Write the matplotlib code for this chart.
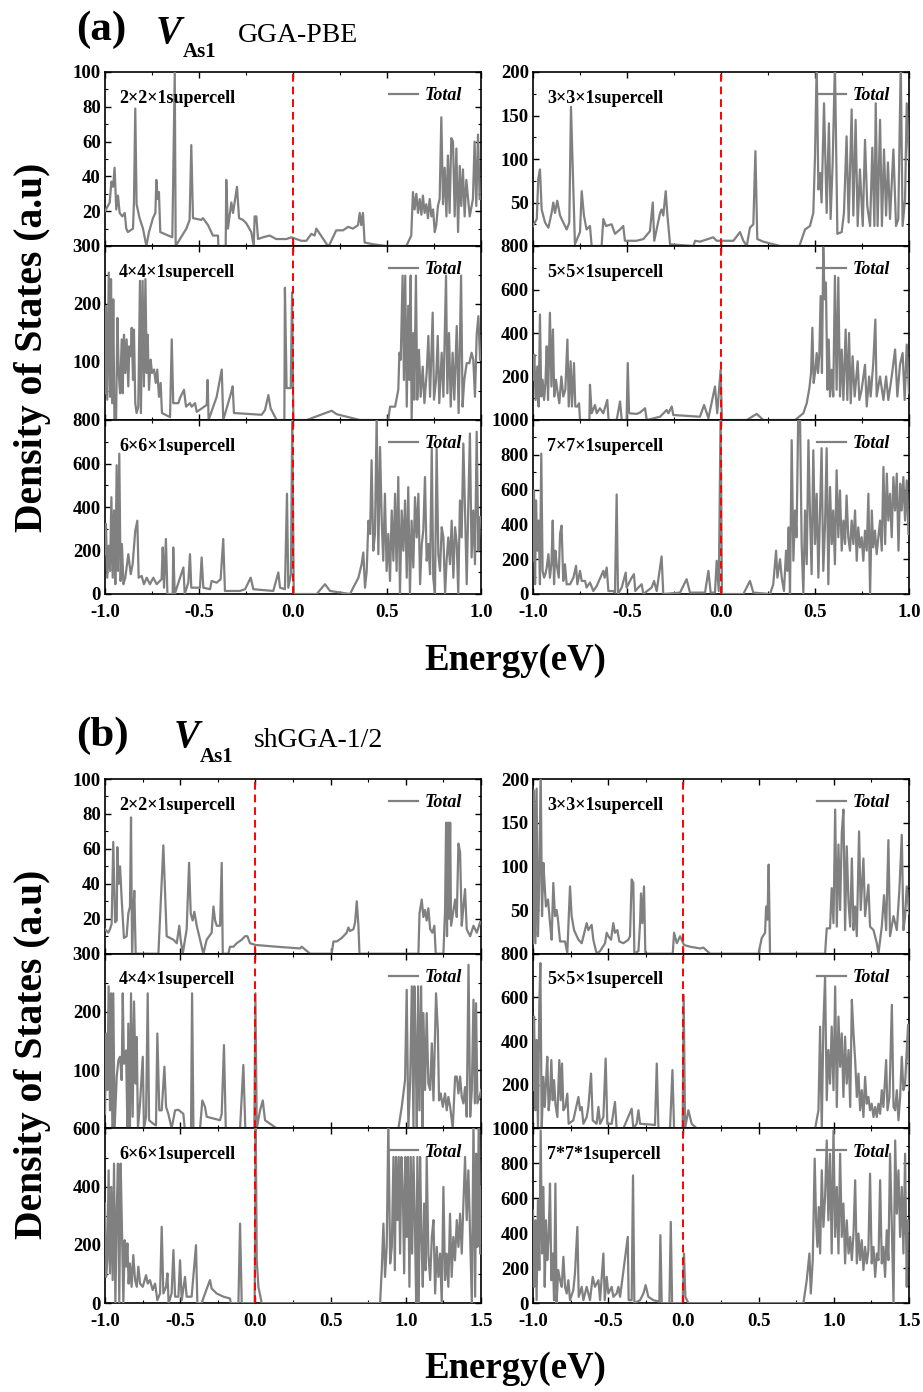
import numpy as np
import matplotlib
matplotlib.use("Agg")
import matplotlib.pyplot as plt
from matplotlib.ticker import MultipleLocator, FormatStrFormatter

plt.rcParams['font.family'] = ['Liberation Serif', 'DejaVu Serif']
plt.rcParams['font.weight'] = 'bold'

# ---------------- (a) GGA-PBE : (energy eV, DOS) ----------------
pbe_2x2 = [(-1.000, 20), (-0.975, 25), (-0.966, 37), (-0.957, 34), (-0.949, 45), (-0.940, 21), (-0.931, 29),
           (-0.922, 19), (-0.908, 17), (-0.895, 19), (-0.887, 10), (-0.878, 8), (-0.851, 10), (-0.846, 25),
           (-0.839, 79), (-0.832, 24), (-0.816, 16), (-0.798, 10), (-0.780, 0), (-0.766, 8), (-0.745, 16),
           (-0.732, 19), (-0.727, 38), (-0.720, 27), (-0.713, 31), (-0.706, 8), (-0.642, 5), (-0.638, 33),
           (-0.629, 100), (-0.624, 0), (-0.567, 10), (-0.550, 15), (-0.541, 58), (-0.532, 16), (-0.488, 15),
           (-0.479, 16), (-0.452, 12), (-0.426, 6), (-0.399, 6), (-0.397, 0), (-0.358, 0), (-0.355, 38),
           (-0.346, 10), (-0.328, 25), (-0.319, 19), (-0.298, 34), (-0.287, 16), (-0.266, 15), (-0.248, 13),
           (-0.222, 8), (-0.209, 0), (-0.204, 17), (-0.195, 17), (-0.186, 4), (-0.160, 5), (-0.124, 6),
           (-0.089, 4), (-0.035, 4), (-0.009, 5), (0.018, 4), (0.044, 3), (0.071, 3), (0.098, 7), (0.115, 6),
           (0.124, 10), (0.186, 0), (0.195, 1), (0.230, 9), (0.266, 9), (0.293, 11), (0.319, 10), (0.346, 12),
           (0.355, 19), (0.363, 12), (0.372, 19), (0.381, 2), (0.426, 1), (0.496, 0), (0.603, 0), (0.629, 6),
           (0.638, 31), (0.647, 21), (0.656, 30), (0.665, 19), (0.674, 27), (0.683, 18), (0.691, 29), (0.700, 19),
           (0.709, 24), (0.718, 16), (0.727, 27), (0.736, 17), (0.745, 21), (0.754, 8), (0.762, 12), (0.771, 23),
           (0.780, 27), (0.789, 74), (0.798, 24), (0.807, 45), (0.816, 17), (0.824, 52), (0.833, 19), (0.842, 62),
           (0.851, 60), (0.860, 17), (0.869, 56), (0.878, 8), (0.887, 46), (0.895, 23), (0.904, 44), (0.913, 17),
           (0.922, 38), (0.940, 17), (0.957, 27), (0.966, 60), (0.975, 23), (0.984, 64), (0.993, 27)]

pbe_3x3 = [(-1.000, 23), (-0.980, 31), (-0.972, 77), (-0.963, 88), (-0.954, 42), (-0.936, 27), (-0.918, 21),
           (-0.901, 38), (-0.892, 50), (-0.883, 38), (-0.871, 52), (-0.856, 35), (-0.839, 27), (-0.821, 19),
           (-0.807, 27), (-0.798, 160), (-0.777, 2), (-0.750, 16), (-0.741, 63), (-0.729, 35), (-0.715, 19),
           (-0.697, 23), (-0.688, 0), (-0.635, 0), (-0.626, 31), (-0.612, 23), (-0.582, 25), (-0.564, 14),
           (-0.537, 19), (-0.520, 23), (-0.511, 6), (-0.449, 6), (-0.413, 8), (-0.378, 17), (-0.363, 50),
           (-0.355, 6), (-0.324, 38), (-0.316, 42), (-0.307, 35), (-0.294, 63), (-0.285, 35), (-0.271, 2),
           (-0.147, 0), (-0.138, 6), (-0.112, 5), (-0.041, 10), (-0.023, 6), (0.066, 6), (0.101, 16), (0.119, 6),
           (0.137, 0), (0.154, 21), (0.172, 25), (0.183, 109), (0.193, 8), (0.225, 5), (0.314, 0), (0.417, 0),
           (0.447, 19), (0.473, 23), (0.491, 38), (0.500, 103), (0.509, 210), (0.518, 65), (0.527, 84), (0.535, 50),
           (0.548, 164), (0.562, 38), (0.574, 141), (0.583, 31), (0.594, 96), (0.606, 210), (0.619, 14), (0.642, 16),
           (0.654, 38), (0.668, 126), (0.679, 27), (0.695, 157), (0.704, 35), (0.716, 145), (0.727, 23), (0.739, 88),
           (0.754, 23), (0.766, 122), (0.778, 46), (0.793, 23), (0.805, 113), (0.816, 23), (0.823, 164), (0.833, 23),
           (0.846, 145), (0.856, 23), (0.867, 111), (0.878, 35), (0.888, 96), (0.899, 31), (0.917, 111), (0.931, 23),
           (0.943, 31), (0.956, 210), (0.966, 23), (0.979, 54), (0.988, 164), (1.000, 100)]

pbe_4x4 = [(-1.000, 46), (-0.995, 196), (-0.988, 35), (-0.980, 254), (-0.973, 40), (-0.968, 243), (-0.961, 29),
           (-0.956, 208), (-0.950, 0), (-0.941, 0), (-0.934, 176), (-0.927, 81), (-0.920, 46), (-0.911, 139),
           (-0.906, 46), (-0.899, 147), (-0.892, 81), (-0.885, 139), (-0.876, 58), (-0.871, 127), (-0.863, 110),
           (-0.858, 159), (-0.851, 69), (-0.846, 156), (-0.839, 29), (-0.832, 12), (-0.823, 23), (-0.814, 240),
           (-0.809, 12), (-0.800, 240), (-0.793, 58), (-0.785, 243), (-0.778, 81), (-0.773, 147), (-0.766, 52),
           (-0.757, 104), (-0.750, 81), (-0.739, 87), (-0.730, 64), (-0.722, 87), (-0.713, 40), (-0.704, 64),
           (-0.697, 12), (-0.654, 5), (-0.645, 139), (-0.637, 29), (-0.610, 29), (-0.601, 38), (-0.580, 52),
           (-0.569, 23), (-0.548, 29), (-0.539, 23), (-0.521, 29), (-0.512, 14), (-0.459, 26), (-0.454, 69),
           (-0.449, 0), (-0.406, 40), (-0.379, 87), (-0.371, 0), (-0.330, 46), (-0.321, 58), (-0.314, 12),
           (-0.167, 9), (-0.149, 17), (-0.131, 43), (-0.119, 20), (-0.087, 0), (-0.046, 0), (-0.043, 228),
           (-0.034, 55), (-0.012, 55), (-0.005, 220), (0.002, 0), (0.073, 0), (0.206, 16), (0.232, 10), (0.356, 0),
           (0.507, 0), (0.516, 23), (0.543, 23), (0.560, 52), (0.566, 116), (0.573, 104), (0.583, 249), (0.590, 69),
           (0.597, 249), (0.605, 23), (0.613, 197), (0.619, 69), (0.626, 249), (0.631, 0), (0.640, 150), (0.645, 35),
           (0.654, 249), (0.661, 35), (0.670, 121), (0.679, 40), (0.690, 92), (0.699, 29), (0.711, 81), (0.720, 145),
           (0.729, 40), (0.743, 185), (0.750, 35), (0.761, 69), (0.770, 145), (0.778, 29), (0.791, 116), (0.800, 40),
           (0.814, 249), (0.821, 46), (0.830, 150), (0.839, 23), (0.849, 116), (0.858, 35), (0.871, 162), (0.881, 12),
           (0.894, 249), (0.902, 23), (0.911, 69), (0.924, 98), (0.938, 98), (0.950, 116), (0.959, 104), (0.968, 40),
           (0.977, 147), (0.986, 179), (0.995, 104)]

pbe_5x5 = [(-1.000, 185), (-0.993, 300), (-0.986, 92), (-0.977, 246), (-0.970, 62), (-0.963, 485), (-0.956, 108),
           (-0.949, 185), (-0.941, 92), (-0.934, 170), (-0.927, 339), (-0.920, 92), (-0.910, 493), (-0.902, 154),
           (-0.894, 416), (-0.887, 108), (-0.878, 185), (-0.871, 139), (-0.860, 77), (-0.849, 200), (-0.839, 108),
           (-0.828, 139), (-0.817, 370), (-0.810, 62), (-0.800, 270), (-0.793, 62), (-0.782, 262), (-0.775, 62),
           (-0.764, 62), (-0.755, 77), (-0.750, 0), (-0.700, 0), (-0.697, 162), (-0.688, 31), (-0.670, 69),
           (-0.661, 31), (-0.644, 54), (-0.626, 31), (-0.605, 92), (-0.598, 0), (-0.555, 0), (-0.537, 85),
           (-0.528, 0), (-0.502, 0), (-0.496, 262), (-0.489, 31), (-0.449, 28), (-0.431, 34), (-0.404, 54),
           (-0.395, 0), (-0.324, 15), (-0.289, 46), (-0.280, 31), (-0.262, 62), (-0.254, 23), (-0.112, 15),
           (-0.090, 69), (-0.067, 8), (-0.032, 154), (-0.020, 31), (-0.002, 231), (0.005, 0), (0.137, 0),
           (0.190, 28), (0.225, 0), (0.394, 0), (0.438, 31), (0.456, 77), (0.470, 146), (0.479, 216), (0.486, 424),
           (0.493, 170), (0.502, 231), (0.509, 308), (0.516, 216), (0.523, 300), (0.530, 570), (0.537, 216),
           (0.544, 793), (0.551, 555), (0.558, 632), (0.566, 139), (0.573, 370), (0.580, 108), (0.589, 231),
           (0.597, 108), (0.606, 663), (0.615, 139), (0.624, 655), (0.633, 108), (0.642, 324), (0.651, 92),
           (0.663, 416), (0.672, 92), (0.681, 400), (0.690, 77), (0.700, 293), (0.711, 108), (0.727, 270),
           (0.736, 92), (0.748, 139), (0.766, 254), (0.775, 62), (0.788, 200), (0.796, 108), (0.810, 262),
           (0.821, 462), (0.828, 108), (0.846, 200), (0.864, 92), (0.878, 200), (0.890, 92), (0.908, 200),
           (0.926, 324), (0.938, 108), (0.952, 254), (0.966, 308), (0.977, 92), (0.988, 347), (1.000, 123)]

pbe_6x6 = [(-1.000, 183), (-0.995, 322), (-0.988, 75), (-0.980, 222), (-0.973, 106), (-0.966, 445), (-0.959, 75),
           (-0.952, 384), (-0.945, 45), (-0.938, 592), (-0.931, 106), (-0.924, 645), (-0.917, 60), (-0.910, 230),
           (-0.902, 45), (-0.892, 75), (-0.876, 183), (-0.863, 91), (-0.853, 137), (-0.839, 291), (-0.828, 337),
           (-0.821, 75), (-0.805, 83), (-0.793, 45), (-0.778, 75), (-0.761, 45), (-0.743, 75), (-0.725, 45),
           (-0.699, 68), (-0.693, 214), (-0.686, 29), (-0.676, 253), (-0.668, 0), (-0.640, 0), (-0.637, 214),
           (-0.629, 0), (-0.583, 122), (-0.576, 0), (-0.557, 52), (-0.548, 183), (-0.541, 29), (-0.495, 29),
           (-0.486, 168), (-0.477, 29), (-0.441, 22), (-0.433, 60), (-0.406, 52), (-0.385, 68), (-0.371, 253),
           (-0.362, 14), (-0.282, 14), (-0.255, 22), (-0.225, 75), (-0.211, 22), (-0.105, 14), (-0.078, 99),
           (-0.069, 29), (-0.043, 22), (-0.032, 461), (-0.025, 29), (-0.011, 91), (-0.004, 820), (0.004, 0),
           (0.126, 0), (0.170, 45), (0.197, 14), (0.303, 0), (0.330, 45), (0.348, 75), (0.365, 137), (0.374, 191),
           (0.383, 29), (0.392, 106), (0.401, 337), (0.410, 276), (0.418, 615), (0.427, 199), (0.436, 276),
           (0.445, 820), (0.454, 183), (0.463, 676), (0.472, 337), (0.480, 153), (0.489, 461), (0.498, 106),
           (0.507, 276), (0.516, 60), (0.525, 384), (0.534, 153), (0.543, 461), (0.551, 106), (0.560, 538),
           (0.569, 0), (0.578, 384), (0.587, 199), (0.596, 430), (0.605, 75), (0.613, 491), (0.622, 0),
           (0.631, 337), (0.640, 122), (0.649, 445), (0.658, 260), (0.667, 461), (0.676, 45), (0.685, 230),
           (0.693, 291), (0.702, 538), (0.711, 153), (0.720, 230), (0.729, 91), (0.738, 669), (0.746, 75),
           (0.755, 0), (0.764, 669), (0.773, 183), (0.782, 106), (0.791, 307), (0.800, 260), (0.809, 0),
           (0.817, 153), (0.826, 260), (0.835, 137), (0.844, 337), (0.853, 75), (0.862, 307), (0.871, 230),
           (0.879, 0), (0.888, 430), (0.897, 260), (0.906, 692), (0.915, 384), (0.924, 45), (0.933, 430),
           (0.941, 738), (0.950, 168), (0.959, 384), (0.968, 137), (0.977, 746), (0.986, 199), (0.995, 353)]

pbe_7x7 = [(-1.000, 191), (-0.995, 595), (-0.989, 56), (-0.984, 538), (-0.977, 249), (-0.970, 422), (-0.963, 56),
           (-0.956, 807), (-0.949, 133), (-0.941, 94), (-0.934, 114), (-0.927, 152), (-0.918, 229), (-0.910, 94),
           (-0.902, 171), (-0.895, 422), (-0.888, 56), (-0.881, 249), (-0.874, 171), (-0.863, 94), (-0.856, 345),
           (-0.848, 393), (-0.839, 75), (-0.830, 171), (-0.821, 56), (-0.803, 56), (-0.785, 94), (-0.771, 162),
           (-0.764, 56), (-0.750, 133), (-0.741, 75), (-0.723, 75), (-0.715, 37), (-0.697, 66), (-0.679, 17),
           (-0.661, 46), (-0.626, 133), (-0.619, 94), (-0.608, 152), (-0.599, 17), (-0.573, 17), (-0.564, 8),
           (-0.555, 572), (-0.548, 0), (-0.528, 37), (-0.507, 123), (-0.502, 37), (-0.475, 94), (-0.463, 114),
           (-0.456, 17), (-0.440, 37), (-0.422, 56), (-0.413, 0), (-0.369, 37), (-0.356, 75), (-0.342, 17),
           (-0.316, 216), (-0.307, 0), (-0.218, 8), (-0.183, 85), (-0.165, 8), (-0.085, 8), (-0.067, 133),
           (-0.055, 8), (-0.032, 8), (-0.023, 191), (-0.012, 17), (-0.002, 1050), (0.005, 0), (0.119, 0),
           (0.154, 75), (0.172, 8), (0.261, 0), (0.278, 56), (0.293, 249), (0.300, 94), (0.314, 200), (0.323, 94),
           (0.335, 17), (0.346, 249), (0.353, 133), (0.360, 383), (0.367, 0), (0.376, 884), (0.385, 191),
           (0.394, 480), (0.402, 326), (0.411, 1050), (0.420, 1050), (0.429, 287), (0.438, 0), (0.447, 480),
           (0.456, 171), (0.465, 884), (0.473, 480), (0.482, 114), (0.491, 826), (0.500, 287), (0.509, 576),
           (0.518, 94), (0.527, 480), (0.535, 838), (0.544, 133), (0.553, 383), (0.562, 838), (0.571, 56),
           (0.580, 615), (0.589, 287), (0.597, 480), (0.606, 171), (0.615, 711), (0.624, 326), (0.633, 595),
           (0.642, 249), (0.651, 422), (0.660, 287), (0.668, 566), (0.677, 326), (0.686, 249), (0.695, 422),
           (0.704, 287), (0.713, 480), (0.722, 191), (0.730, 383), (0.739, 268), (0.748, 326), (0.757, 191),
           (0.766, 364), (0.775, 249), (0.784, 576), (0.793, 0), (0.802, 480), (0.810, 268), (0.819, 364),
           (0.828, 229), (0.837, 326), (0.846, 422), (0.855, 249), (0.864, 730), (0.873, 287), (0.882, 692),
           (0.890, 422), (0.899, 576), (0.908, 326), (0.917, 672), (0.926, 480), (0.935, 692), (0.944, 249),
           (0.953, 634), (0.961, 480), (0.970, 672), (0.979, 422), (0.988, 653), (0.997, 345)]

# ---------------- (b) shGGA-1/2 : (energy eV, DOS) ----------------
sh_2x2 = [(-1.000, 14), (-0.978, 12), (-0.967, 14), (-0.956, 17), (-0.945, 64), (-0.933, 18), (-0.922, 19),
          (-0.918, 61), (-0.909, 40), (-0.900, 50), (-0.889, 31), (-0.874, 9), (-0.856, 10), (-0.845, 23),
          (-0.834, 27), (-0.827, 78), (-0.820, 0), (-0.812, 23), (-0.805, 36), (-0.796, 0), (-0.645, 0),
          (-0.612, 62), (-0.590, 10), (-0.545, 8), (-0.523, 6), (-0.506, 16), (-0.497, 8), (-0.483, 0),
          (-0.457, 14), (-0.441, 52), (-0.430, 23), (-0.417, 19), (-0.406, 24), (-0.390, 16), (-0.368, 8),
          (-0.346, 0), (-0.324, 8), (-0.291, 12), (-0.279, 27), (-0.268, 19), (-0.257, 16), (-0.235, 16),
          (-0.224, 52), (-0.217, 0), (-0.180, 0), (-0.169, 4), (-0.146, 4), (-0.124, 6), (-0.091, 8),
          (-0.069, 10), (-0.053, 10), (-0.036, 6), (0.000, 5), (0.142, 4), (0.297, 3), (0.308, 4), (0.363, 0),
          (0.507, 0), (0.519, 7), (0.541, 7), (0.574, 9), (0.607, 12), (0.618, 15), (0.629, 13), (0.652, 14),
          (0.663, 18), (0.674, 30), (0.685, 16), (0.692, 0), (1.084, 0), (1.091, 23), (1.106, 31), (1.117, 21),
          (1.128, 25), (1.139, 19), (1.150, 26), (1.162, 14), (1.177, 12), (1.190, 16), (1.199, 0), (1.250, 0),
          (1.261, 25), (1.268, 75), (1.274, 10), (1.281, 75), (1.288, 20), (1.295, 75), (1.301, 16), (1.328, 31),
          (1.339, 21), (1.350, 63), (1.361, 58), (1.372, 16), (1.383, 27), (1.394, 37), (1.405, 14), (1.428, 10),
          (1.450, 16), (1.472, 12), (1.494, 18)]

sh_3x3 = [(-1.000, 12), (-0.993, 187), (-0.984, 12), (-0.976, 189), (-0.967, 20), (-0.958, 85), (-0.949, 210),
          (-0.940, 43), (-0.931, 104), (-0.922, 77), (-0.914, 54), (-0.900, 62), (-0.887, 35), (-0.876, 16),
          (-0.865, 81), (-0.854, 43), (-0.843, 50), (-0.834, 39), (-0.820, 14), (-0.787, 14), (-0.772, 1),
          (-0.754, 77), (-0.743, 43), (-0.727, 27), (-0.698, 16), (-0.676, 12), (-0.643, 35), (-0.632, 27),
          (-0.610, 33), (-0.599, 16), (-0.577, 0), (-0.554, 3), (-0.521, 12), (-0.510, 24), (-0.499, 20),
          (-0.481, 16), (-0.466, 35), (-0.455, 24), (-0.439, 27), (-0.426, 14), (-0.399, 12), (-0.366, 16),
          (-0.355, 20), (-0.344, 85), (-0.333, 81), (-0.326, 0), (-0.299, 3), (-0.288, 35), (-0.282, 69),
          (-0.273, 35), (-0.262, 77), (-0.253, 0), (-0.071, 0), (-0.062, 24), (-0.044, 12), (-0.022, 20),
          (0.004, 10), (0.044, 8), (0.111, 6), (0.133, 7), (0.177, 0), (0.499, 0), (0.521, 18), (0.543, 24),
          (0.550, 54), (0.559, 39), (0.567, 102), (0.576, 0), (0.942, 0), (0.953, 29), (0.975, 29), (0.986, 75),
          (0.998, 35), (1.009, 165), (1.020, 31), (1.031, 125), (1.042, 50), (1.053, 138), (1.064, 165),
          (1.075, 27), (1.086, 123), (1.098, 58), (1.109, 31), (1.120, 109), (1.131, 27), (1.142, 54),
          (1.153, 20), (1.168, 140), (1.179, 50), (1.197, 109), (1.208, 43), (1.230, 79), (1.241, 31),
          (1.264, 27), (1.286, 12), (1.297, 0), (1.319, 31), (1.334, 67), (1.348, 27), (1.363, 130), (1.374, 20),
          (1.397, 43), (1.419, 27), (1.436, 73), (1.452, 136), (1.463, 27), (1.474, 43), (1.485, 77), (1.501, 46)]

sh_4x4 = [(-1.000, 25), (-0.993, 163), (-0.984, 66), (-0.976, 244), (-0.967, 31), (-0.960, 232), (-0.951, 0),
          (-0.945, 232), (-0.936, 0), (-0.922, 89), (-0.911, 117), (-0.900, 123), (-0.889, 83), (-0.882, 232),
          (-0.874, 111), (-0.860, 134), (-0.851, 0), (-0.845, 180), (-0.834, 0), (-0.827, 232), (-0.816, 20),
          (-0.807, 218), (-0.796, 77), (-0.789, 157), (-0.781, 0), (-0.767, 43), (-0.749, 123), (-0.741, 0),
          (-0.727, 20), (-0.716, 232), (-0.707, 14), (-0.679, 8), (-0.661, 5), (-0.652, 163), (-0.639, 31),
          (-0.623, 31), (-0.605, 106), (-0.594, 37), (-0.579, 25), (-0.557, 0), (-0.534, 31), (-0.512, 32),
          (-0.479, 25), (-0.470, 0), (-0.428, 0), (-0.421, 232), (-0.412, 0), (-0.368, 0), (-0.353, 48),
          (-0.335, 37), (-0.324, 20), (-0.279, 17), (-0.235, 14), (-0.224, 25), (-0.209, 143), (-0.197, 0),
          (-0.102, 0), (-0.080, 109), (-0.067, 0), (-0.007, 0), (0.000, 232), (0.009, 0), (0.031, 31),
          (0.049, 48), (0.064, 14), (0.142, 0), (0.951, 0), (0.973, 37), (0.995, 83), (1.006, 238), (1.017, 0),
          (1.029, 83), (1.040, 244), (1.051, 0), (1.057, 244), (1.066, 134), (1.073, 0), (1.082, 244),
          (1.091, 31), (1.102, 244), (1.111, 0), (1.117, 198), (1.128, 66), (1.139, 198), (1.150, 77),
          (1.162, 66), (1.173, 146), (1.184, 48), (1.201, 232), (1.213, 169), (1.221, 48), (1.232, 60),
          (1.246, 37), (1.261, 60), (1.272, 31), (1.283, 54), (1.295, 37), (1.312, 0), (1.328, 89), (1.339, 89),
          (1.350, 60), (1.361, 89), (1.372, 54), (1.383, 43), (1.394, 71), (1.405, 20), (1.417, 281), (1.428, 20),
          (1.439, 66), (1.450, 221), (1.459, 43), (1.467, 215), (1.476, 43), (1.490, 54), (1.501, 66)]

sh_5x5 = [(-1.000, 175), (-0.993, 512), (-0.984, 83), (-0.976, 405), (-0.967, 0), (-0.958, 573), (-0.951, 757),
          (-0.942, 0), (-0.931, 236), (-0.922, 98), (-0.914, 205), (-0.905, 328), (-0.896, 83), (-0.887, 144),
          (-0.878, 313), (-0.869, 129), (-0.860, 221), (-0.851, 113), (-0.838, 52), (-0.825, 313), (-0.816, 129),
          (-0.807, 297), (-0.798, 83), (-0.785, 98), (-0.772, 159), (-0.763, 21), (-0.732, 37), (-0.698, 144),
          (-0.687, 83), (-0.676, 98), (-0.665, 21), (-0.643, 52), (-0.632, 98), (-0.614, 251), (-0.603, 37),
          (-0.577, 21), (-0.565, 98), (-0.554, 21), (-0.532, 52), (-0.517, 320), (-0.506, 21), (-0.477, 21),
          (-0.455, 121), (-0.444, 0), (-0.399, 0), (-0.344, 90), (-0.333, 0), (-0.311, 21), (-0.299, 83),
          (-0.288, 21), (-0.222, 18), (-0.189, 15), (-0.177, 297), (-0.166, 0), (-0.089, 0), (-0.073, 267),
          (-0.062, 0), (-0.005, 0), (0.002, 611), (0.011, 0), (0.033, 83), (0.055, 21), (0.089, 0), (0.876, 0),
          (0.898, 83), (0.909, 466), (0.920, 0), (0.931, 481), (0.942, 696), (0.953, 129), (0.964, 359),
          (0.975, 205), (0.986, 466), (0.998, 175), (1.009, 650), (1.020, 98), (1.031, 512), (1.042, 282),
          (1.053, 435), (1.064, 144), (1.075, 420), (1.086, 205), (1.098, 359), (1.109, 98), (1.120, 589),
          (1.131, 435), (1.142, 313), (1.153, 144), (1.164, 251), (1.175, 83), (1.186, 175), (1.197, 52),
          (1.208, 236), (1.219, 113), (1.230, 144), (1.241, 83), (1.252, 113), (1.264, 52), (1.275, 98),
          (1.286, 52), (1.297, 113), (1.308, 67), (1.319, 175), (1.330, 98), (1.348, 313), (1.357, 83),
          (1.370, 144), (1.386, 566), (1.397, 98), (1.408, 83), (1.419, 175), (1.430, 37), (1.441, 144),
          (1.452, 328), (1.463, 175), (1.474, 205), (1.485, 359), (1.494, 474), (1.501, 175)]

sh_6x6 = [(-1.000, 342), (-0.993, 90), (-0.984, 147), (-0.976, 456), (-0.967, 102), (-0.958, 399), (-0.949, 79),
          (-0.940, 479), (-0.931, 0), (-0.922, 319), (-0.914, 479), (-0.905, 0), (-0.896, 479), (-0.887, 250),
          (-0.878, 0), (-0.869, 216), (-0.860, 125), (-0.851, 205), (-0.843, 67), (-0.834, 136), (-0.823, 56),
          (-0.812, 165), (-0.800, 79), (-0.789, 56), (-0.778, 125), (-0.767, 67), (-0.749, 56), (-0.727, 96),
          (-0.716, 67), (-0.701, 79), (-0.683, 45), (-0.667, 67), (-0.652, 10), (-0.634, 33), (-0.623, 262),
          (-0.612, 33), (-0.594, 56), (-0.585, 102), (-0.577, 0), (-0.557, 33), (-0.545, 182), (-0.534, 22),
          (-0.512, 22), (-0.501, 147), (-0.490, 10), (-0.468, 90), (-0.457, 22), (-0.424, 22), (-0.395, 199),
          (-0.386, 0), (-0.357, 0), (-0.335, 33), (-0.302, 79), (-0.291, 50), (-0.257, 33), (-0.213, 22),
          (-0.169, 16), (-0.164, 0), (-0.113, 0), (-0.102, 273), (-0.091, 0), (-0.005, 0), (0.002, 620),
          (0.009, 147), (0.020, 56), (0.042, 0), (0.829, 0), (0.840, 113), (0.851, 273), (0.862, 90),
          (0.873, 193), (0.884, 620), (0.896, 136), (0.907, 193), (0.918, 502), (0.927, 113), (0.935, 502),
          (0.944, 285), (0.953, 502), (0.962, 170), (0.971, 502), (0.980, 399), (0.989, 102), (0.998, 502),
          (1.006, 227), (1.015, 502), (1.024, 56), (1.033, 502), (1.042, 170), (1.051, 502), (1.060, 285),
          (1.069, 0), (1.077, 502), (1.086, 0), (1.095, 502), (1.104, 227), (1.113, 56), (1.122, 342),
          (1.131, 113), (1.139, 502), (1.150, 170), (1.162, 79), (1.173, 227), (1.184, 285), (1.195, 33),
          (1.206, 193), (1.217, 90), (1.228, 170), (1.239, 0), (1.250, 399), (1.261, 79), (1.272, 170),
          (1.283, 56), (1.294, 307), (1.305, 90), (1.316, 227), (1.327, 147), (1.339, 285), (1.350, 193),
          (1.361, 307), (1.372, 170), (1.383, 342), (1.394, 502), (1.405, 285), (1.416, 456), (1.428, 227),
          (1.439, 0), (1.450, 620), (1.461, 22), (1.468, 513), (1.476, 193), (1.485, 620), (1.494, 170),
          (1.501, 399)]

sh_7x7 = [(-1.000, 531), (-0.993, 93), (-0.984, 474), (-0.976, 17), (-0.967, 589), (-0.958, 189), (-0.949, 988),
          (-0.940, 284), (-0.931, 665), (-0.922, 93), (-0.914, 474), (-0.905, 246), (-0.896, 379), (-0.887, 684),
          (-0.878, 131), (-0.869, 284), (-0.860, 17), (-0.851, 684), (-0.843, 0), (-0.832, 189), (-0.820, 131),
          (-0.809, 93), (-0.798, 265), (-0.787, 93), (-0.776, 55), (-0.765, 131), (-0.754, 17), (-0.732, 74),
          (-0.721, 170), (-0.705, 436), (-0.696, 36), (-0.676, 93), (-0.665, 17), (-0.643, 93), (-0.621, 17),
          (-0.603, 150), (-0.588, 93), (-0.565, 131), (-0.554, 17), (-0.532, 284), (-0.523, 17), (-0.510, 150),
          (-0.499, 55), (-0.477, 93), (-0.466, 36), (-0.444, 55), (-0.432, 93), (-0.421, 36), (-0.370, 379),
          (-0.364, 17), (-0.344, 17), (-0.335, 731), (-0.326, 0), (-0.288, 17), (-0.266, 55), (-0.251, 103),
          (-0.233, 36), (-0.200, 17), (-0.160, 8), (-0.153, 389), (-0.144, 0), (-0.093, 0), (-0.084, 465),
          (-0.075, 0), (-0.005, 0), (0.004, 284), (0.013, 36), (0.033, 0), (0.798, 0), (0.820, 131), (0.838, 284),
          (0.847, 55), (0.860, 246), (0.873, 827), (0.882, 474), (0.891, 322), (0.900, 550), (0.909, 284),
          (0.920, 760), (0.931, 436), (0.942, 608), (0.953, 931), (0.964, 474), (0.975, 855), (0.986, 284),
          (0.998, 988), (1.009, 379), (1.020, 665), (1.031, 284), (1.042, 855), (1.053, 379), (1.064, 570),
          (1.075, 227), (1.086, 474), (1.098, 284), (1.109, 379), (1.120, 246), (1.131, 398), (1.142, 703),
          (1.153, 227), (1.164, 398), (1.175, 246), (1.186, 360), (1.197, 189), (1.208, 322), (1.219, 227),
          (1.230, 303), (1.241, 741), (1.252, 227), (1.264, 322), (1.275, 150), (1.286, 284), (1.297, 246),
          (1.308, 703), (1.319, 227), (1.330, 322), (1.341, 150), (1.352, 417), (1.363, 246), (1.374, 855),
          (1.385, 474), (1.397, 0), (1.408, 931), (1.419, 512), (1.430, 760), (1.441, 379), (1.452, 665),
          (1.463, 284), (1.474, 855), (1.485, 93), (1.492, 474), (1.501, 417)]

# panel labels and y-axis ranges (max, tick step)
labels_a = ['2×2×1supercell', '3×3×1supercell', '4×4×1supercell',
            '5×5×1supercell', '6×6×1supercell', '7×7×1supercell']
labels_b = ['2×2×1supercell', '3×3×1supercell', '4×4×1supercell',
            '5×5×1supercell', '6×6×1supercell', '7*7*1supercell']
yrange_a = [(100, 20), (200, 50), (300, 100), (800, 200), (800, 200), (1000, 200)]
yrange_b = [(100, 20), (200, 50), (300, 100), (800, 200), (600, 200), (1000, 200)]

W, H = 923, 1392
GRAY = '#808080'
COL_LEFT = [105, 533]
AX_W = 376

fig = plt.figure(figsize=(W / 100, H / 100), dpi=100)


def draw_group(datasets, labels, yranges, top_px, row_h, xlim):
    for i, (data, lab, (ymax, ystep)) in enumerate(zip(datasets, labels, yranges)):
        row, col = divmod(i, 2)
        rect = [COL_LEFT[col] / W, 1 - (top_px + (row + 1) * row_h) / H, AX_W / W, row_h / H]
        ax = fig.add_axes(rect)
        e, d = zip(*data)
        ax.plot(e, d, color=GRAY, lw=1.6, label='Total', zorder=3)
        ax.axvline(0, color='red', ls=(0, (4, 2.5)), lw=1.4, zorder=5)
        ax.set_xlim(*xlim)
        ax.set_ylim(0, ymax)

        yt = np.arange(0, ymax + 1, ystep)
        ax.set_yticks(yt)
        ax.set_yticklabels(['' if (v == 0 and row < 2) else str(int(v)) for v in yt])
        ax.yaxis.set_minor_locator(MultipleLocator(ystep / 2))
        ax.xaxis.set_major_locator(MultipleLocator(0.5))
        ax.xaxis.set_minor_locator(MultipleLocator(0.25))
        ax.xaxis.set_major_formatter(FormatStrFormatter('%.1f'))
        ax.tick_params(which='both', direction='in', top=True, right=True, labelsize=13.5)
        ax.tick_params(axis='y', pad=3)
        ax.tick_params(axis='x', pad=7)
        ax.tick_params(which='major', length=4, width=1)
        ax.tick_params(which='minor', length=2, width=0.8)
        if row < 2:
            ax.tick_params(labelbottom=False)
        for s in ax.spines.values():
            s.set_linewidth(1.2)

        ax.text(0.037, 0.85, lab, transform=ax.transAxes, fontsize=13,
                fontweight='bold', va='center', ha='left')
        ax.legend(loc='upper right', frameon=False, handlelength=1.6, handletextpad=0.35,
                  borderaxespad=0.25, bbox_to_anchor=(0.98, 0.98),
                  prop={'style': 'italic', 'weight': 'bold', 'size': 13})


draw_group([pbe_2x2, pbe_3x3, pbe_4x4, pbe_5x5, pbe_6x6, pbe_7x7],
           labels_a, yrange_a, 72, 174, (-1.0, 1.0))
draw_group([sh_2x2, sh_3x3, sh_4x4, sh_5x5, sh_6x6, sh_7x7],
           labels_b, yrange_b, 779, 174.7, (-1.0, 1.5))


# group headers
def fx(px):
    return px / W


def fy(py):
    return 1 - py / H


fig.text(fx(76), fy(30), '(a)', fontsize=31, fontweight='bold', va='center', ha='left')
fig.text(fx(156), fy(33), 'V', fontsize=28, fontweight='bold', style='italic', va='center', ha='left')
fig.text(fx(183), fy(52), 'As1', fontsize=15, fontweight='bold', va='center', ha='left')
fig.text(fx(238), fy(36), 'GGA-PBE', fontsize=20, fontweight='normal', va='center', ha='left')

fig.text(fx(76), fy(736), '(b)', fontsize=31, fontweight='bold', va='center', ha='left')
fig.text(fx(174), fy(738), 'V', fontsize=28, fontweight='bold', style='italic', va='center', ha='left')
fig.text(fx(200), fy(757), 'As1', fontsize=15, fontweight='bold', va='center', ha='left')
fig.text(fx(254), fy(740), 'shGGA-1/2', fontsize=20, fontweight='normal', va='center', ha='left')

# shared axis titles
for yc in (347, 1054):
    fig.text(fx(33), fy(yc), 'Density of States (a.u)', rotation=90, fontsize=28.5,
             fontweight='bold', va='center', ha='center')
for yc in (661, 1368):
    fig.text(fx(515), fy(yc), 'Energy(eV)', fontsize=26.5, fontweight='bold', va='center', ha='center')

fig.savefig('out.png', dpi=100)
